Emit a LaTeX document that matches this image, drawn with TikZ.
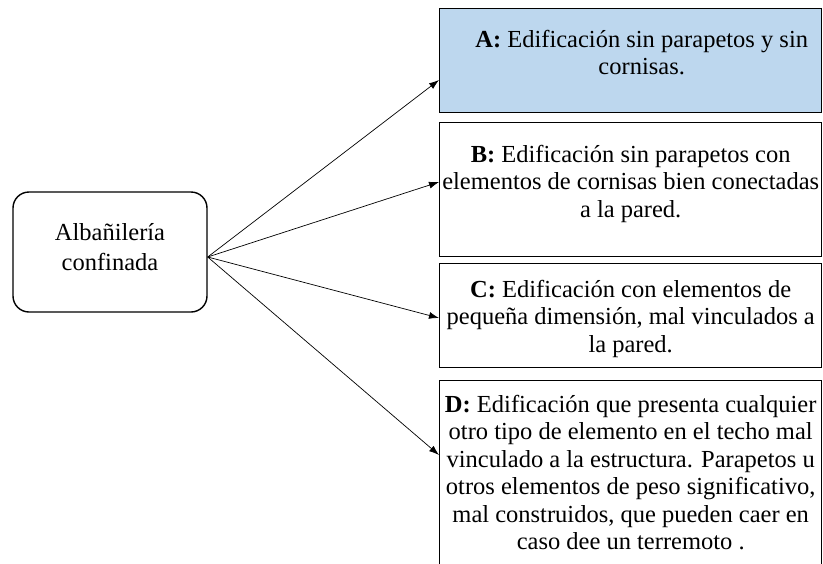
\documentclass[tikz,border=0pt]{standalone}
\usepackage{fontspec}
\setmainfont{Liberation Serif}
\usetikzlibrary{arrows.meta}
\definecolor{boxblue}{HTML}{BDD7EE}
\begin{document}
\begin{tikzpicture}[
    x=1pt, y=-1pt,
    every node/.style={font=\fontsize{24.5}{27.5}\selectfont},
    origen/.style={rectangle, draw, line width=1.4pt, rounded corners=16pt, minimum width=194pt, minimum height=120pt},
    nivel/.style={rectangle, draw, line width=1.4pt, anchor=north west, minimum width=382pt, inner sep=0pt},
    nivtxt/.style={anchor=north, align=center, inner sep=0pt},
    flecha/.style={-{Latex[length=10pt,width=7pt]}, line width=0.7pt},
]
\useasboundingbox (0,0) rectangle (823,563);
\clip (0,0) rectangle (823,563);
\node[origen] (alb) at (110,252) {};
\node[align=center, font=\fontsize{24.5}{30}\selectfont] (albtxt) at ([yshift=5pt]alb.center) {Albañilería\\confinada};
\node[nivel, fill=boxblue, minimum height=104pt] (a) at (439,8) {};
\node[nivel, minimum height=134pt] (b) at (439,122) {};
\node[nivel, minimum height=104pt] (c) at (439,263) {};
\node[nivel, minimum height=230pt] (d) at (439,380) {};
\node[nivtxt] (atxt) at ([xshift=11pt,yshift=-22pt]a.north) {\textbf{A:} Edificación sin parapetos y sin\\cornisas.};
\node[nivtxt] (btxt) at ([yshift=-23pt]b.north) {\textbf{B:} Edificación sin parapetos con\\elementos de cornisas bien conectadas\\a la pared.};
\node[nivtxt] (ctxt) at ([yshift=-17pt]c.north) {\textbf{C:} Edificación con elementos de\\pequeña dimensión, mal vinculados a\\la pared.};
\node[nivtxt] (dtxt) at ([yshift=-15pt]d.north) {\textbf{D:} Edificación que presenta cualquier\\otro tipo de elemento en el techo mal\\vinculado a la estructura. Parapetos u\\otros elementos de peso significativo,\\mal construidos, que pueden caer en\\caso dee un terremoto .};
% flechas
\draw[flecha] ([yshift=-5pt]alb.east) -- ([yshift=-72pt]a.north west);
\draw[flecha] ([yshift=-5pt]alb.east) -- ([yshift=-60pt]b.north west);
\draw[flecha] ([yshift=-5pt]alb.east) -- ([yshift=-55pt]c.north west);
\draw[flecha] ([yshift=-5pt]alb.east) -- ([yshift=-75pt]d.north west);
\end{tikzpicture}
\end{document}
